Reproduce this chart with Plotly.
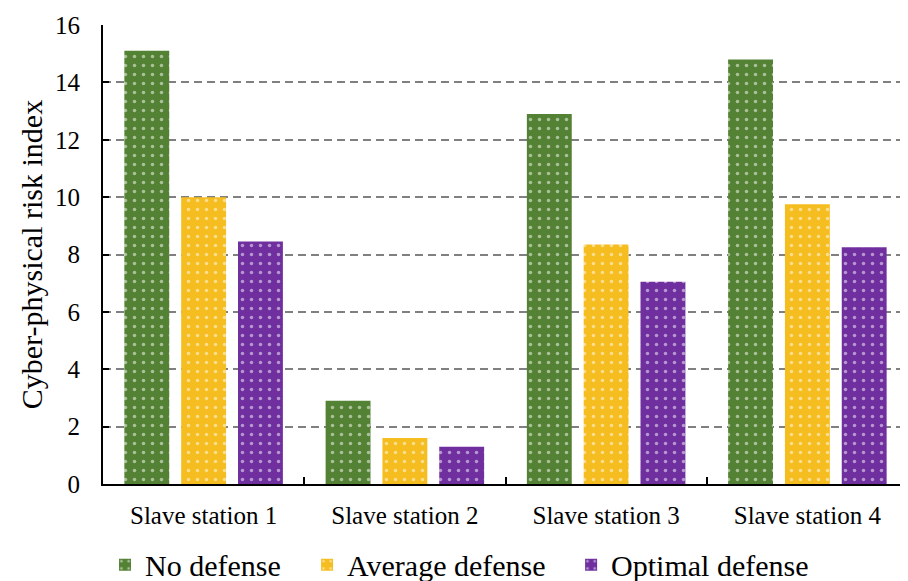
import plotly.graph_objects as go

categories = ["Slave station 1", "Slave station 2", "Slave station 3", "Slave station 4"]
no_defense = [15.1, 2.9, 12.9, 14.8]
average_defense = [10.0, 1.6, 8.35, 9.75]
optimal_defense = [8.45, 1.3, 7.05, 8.25]

series = [
    ("No defense", no_defense, "#548235", "legend"),
    ("Average defense", average_defense, "#F5BD1F", "legend2"),
    ("Optimal defense", optimal_defense, "#6F2F9F", "legend3"),
]

fig = go.Figure()
for name, vals, col, lg in series:
    fig.add_trace(go.Bar(
        x=categories, y=vals, name=name, legend=lg,
        marker=dict(color=col, line=dict(width=0),
                    pattern=dict(shape=".", fgcolor="white", bgcolor=col,
                                 size=9, solidity=0.12, fillmode="overlay")),
    ))

font = "Liberation Serif"
legend_font = dict(size=30, family=font, color="black")
def leg(x):
    return dict(orientation="h", x=x, xanchor="left", y=-0.176, yanchor="middle",
                font=legend_font, itemwidth=30, bgcolor="rgba(0,0,0,0)")

fig.update_layout(
    width=908, height=581,
    margin=dict(l=95, r=8, t=17, b=105, autoexpand=False),
    paper_bgcolor="white", plot_bgcolor="white",
    barmode="group", bargap=0.153, bargroupgap=0.21,
    font=dict(family=font, size=24, color="black"),
    legend=leg(0.0025), legend2=leg(0.2535), legend3=leg(0.5815),
    showlegend=True,
)
fig.update_xaxes(
    showline=True, linecolor="black", linewidth=2,
    ticks="inside", tickson="boundaries", ticklen=7, tickwidth=2, tickcolor="black",
    tickfont=dict(size=25, family=font), ticklabelstandoff=8, showgrid=False,
)
fig.update_yaxes(
    range=[0, 16], dtick=2, showline=True, linecolor="black", linewidth=2,
    ticks="inside", ticklen=6, tickwidth=2, tickcolor="black",
    showgrid=True, gridcolor="#808080", gridwidth=1.5, griddash="8px,5px",
    tickfont=dict(size=25, family=font), ticklabelstandoff=16,
    title=dict(text="Cyber-physical risk index", font=dict(size=30, family=font), standoff=4),
    zeroline=False,
)
fig.write_html("out.html")
